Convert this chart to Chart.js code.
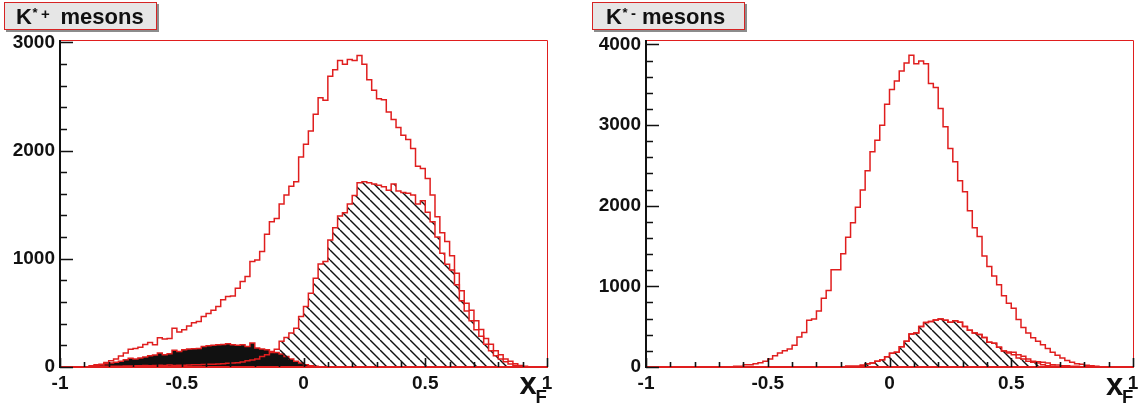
<!DOCTYPE html>
<html>
<head>
<meta charset="utf-8">
<script src="https://cdn.jsdelivr.net/npm/chart.js@4.4.1/dist/chart.umd.min.js"></script>
<style>
  html, body { margin: 0; padding: 0; background: #fff; }
  #stage { position: relative; width: 1144px; height: 410px; overflow: hidden; background: #fff;
           font-family: "Liberation Sans", Arial, Helvetica, sans-serif; font-weight: bold; color: #111; }
  canvas { position: absolute; top: 0; }
  .pave { position: absolute; top: 2px; height: 26px; background: #e6e6e6; border: 1px solid #d62424;
          box-shadow: 2px 2px 0 #8c8c8c; }
  .t { position: absolute; line-height: 1; white-space: nowrap; }
</style>
</head>
<body>
<div id="stage">
  <canvas id="kplus" width="572" height="410" style="left:0"></canvas>
  <canvas id="kminus" width="572" height="410" style="left:572px"></canvas>

  <div class="pave" style="left:4px;width:151px"></div>
  <span class="t" style="left:16px;top:5.9px;font-size:22px">K</span>
  <span class="t" style="left:32.5px;top:6px;font-size:13px">*</span>
  <span class="t" style="left:41px;top:6.3px;font-size:15px">+</span>
  <span class="t" style="left:60.5px;top:5.9px;font-size:22px">mesons</span>

  <div class="pave" style="left:592px;width:151px"></div>
  <span class="t" style="left:606px;top:5.9px;font-size:22px">K</span>
  <span class="t" style="left:622.5px;top:6px;font-size:13px">*</span>
  <span class="t" style="left:631px;top:4.5px;font-size:15px">-</span>
  <span class="t" style="left:642px;top:5.9px;font-size:22px">mesons</span>

  <span class="t" style="left:519.5px;top:367.8px;font-size:31px">x</span>
  <span class="t" style="left:535.5px;top:387.6px;font-size:18.6px">F</span>
  <span class="t" style="left:1106px;top:368.8px;font-size:31px">x</span>
  <span class="t" style="left:1122px;top:388.3px;font-size:18.6px">F</span>
</div>

<script>
// Histograms of x_F: 100 bins from -1 to 1
const xLow = -1;
const xHigh = 1;
const binWidth = 0.02;
const xTicks = [-1, -0.5, 0, 0.5, 1];
const yTicksPlus = [0, 1000, 2000, 3000];
const yTicksMinus = [0, 1000, 2000, 3000, 4000];

// K*+ : all candidates
const kplusTotal = [
  0, 0, 0, 0, 0, 0, 12, 21, 26, 41,
  58, 74, 102, 129, 163, 170, 182, 209, 227, 206,
  270, 258, 264, 358, 324, 344, 378, 409, 421, 467,
  495, 524, 560, 621, 651, 657, 728, 789, 836, 974,
  989, 1066, 1226, 1342, 1373, 1505, 1588, 1671, 1711, 1941,
  2058, 2181, 2335, 2488, 2464, 2685, 2746, 2832, 2796, 2842,
  2832, 2878, 2796, 2654, 2556, 2479, 2470, 2356, 2286, 2212,
  2141, 2101, 2018, 1855, 1834, 1742, 1588, 1389, 1241, 1160,
  1028, 866, 705, 590, 524, 428, 347, 264, 210, 150,
  113, 75, 52, 31, 15, 6, 0, 0, 0, 0
];
// K*+ : hatched component
const kplusHatched = [
  0, 0, 0, 0, 0, 0, 4, 5, 3, 7,
  6, 8, 7, 10, 9, 12, 11, 13, 12, 15,
  16, 14, 18, 15, 17, 16, 19, 21, 20, 24,
  26, 25, 28, 31, 34, 37, 40, 46, 58, 65,
  74, 98, 114, 135, 163, 237, 273, 313, 359, 467,
  559, 682, 820, 952, 974, 1173, 1287, 1395, 1425, 1505,
  1585, 1702, 1711, 1702, 1690, 1680, 1665, 1634, 1690, 1625,
  1613, 1605, 1588, 1505, 1536, 1430, 1342, 1200, 1051, 950,
  897, 759, 612, 518, 428, 344, 283, 210, 150, 104,
  74, 48, 28, 15, 6, 0, 0, 0, 0, 0
];
// K*+ : solid component
const kplusSolid = [
  0, 0, 0, 0, 0, 0, 6, 15, 18, 31,
  37, 43, 52, 68, 80, 74, 83, 92, 104, 111,
  129, 114, 123, 154, 144, 160, 166, 169, 172, 190,
  197, 200, 206, 209, 215, 206, 200, 206, 190, 221,
  175, 166, 160, 144, 135, 120, 98, 74, 52, 37,
  21, 12, 6, 0, 0, 0, 0, 0, 0, 0,
  0, 0, 0, 0, 0, 0, 0, 0, 0, 0,
  0, 0, 0, 0, 0, 0, 0, 0, 0, 0,
  0, 0, 0, 0, 0, 0, 0, 0, 0, 0,
  0, 0, 0, 0, 0, 0, 0, 0, 0, 0
];

// K*- : all candidates
const kminusTotal = [
  0, 0, 0, 0, 0, 0, 0, 0, 0, 0,
  0, 0, 0, 0, 0, 0, 0, 0, 8, 8,
  29, 29, 41, 54, 70, 99, 140, 173, 200, 223,
  270, 371, 429, 580, 594, 695, 854, 949, 1205, 1205,
  1403, 1609, 1790, 1980, 2195, 2434, 2669, 2813, 2999, 3259,
  3440, 3548, 3671, 3770, 3865, 3762, 3795, 3762, 3515, 3465,
  3205, 2978, 2710, 2545, 2310, 2174, 1939, 1728, 1617, 1378,
  1246, 1130, 1019, 883, 792, 730, 590, 489, 421, 363,
  318, 276, 229, 184, 147, 111, 80, 60, 40, 35,
  23, 14, 8, 0, 0, 0, 0, 0, 0, 0
];
// K*- : hatched component
const kminusHatched = [
  0, 0, 0, 0, 0, 0, 0, 0, 0, 0,
  0, 0, 0, 0, 0, 0, 0, 0, 0, 0,
  0, 0, 0, 0, 0, 0, 0, 0, 0, 0,
  0, 0, 0, 0, 0, 0, 0, 0, 0, 0,
  0, 8, 8, 8, 21, 41, 50, 70, 91, 126,
  170, 182, 250, 318, 410, 421, 503, 553, 565, 582,
  594, 580, 555, 572, 555, 503, 455, 421, 404, 365,
  308, 293, 245, 198, 173, 153, 111, 99, 70, 58,
  50, 29, 16, 8, 0, 0, 0, 0, 0, 0,
  0, 0, 0, 0, 0, 0, 0, 0, 0, 0
];
// K*- : open component
const kminusOpen = [
  0, 0, 0, 0, 0, 0, 0, 0, 0, 0,
  0, 0, 0, 0, 0, 0, 0, 0, 0, 0,
  0, 0, 0, 0, 0, 0, 0, 0, 0, 0,
  0, 0, 0, 0, 0, 0, 0, 0, 0, 0,
  0, 8, 8, 8, 21, 41, 50, 70, 91, 126,
  170, 182, 250, 318, 410, 421, 503, 553, 565, 582,
  594, 580, 555, 572, 555, 503, 455, 421, 404, 365,
  308, 293, 245, 198, 186, 182, 153, 132, 99, 70,
  66, 58, 50, 29, 25, 16, 16, 8, 8, 0,
  0, 0, 0, 0, 0, 0, 0, 0, 0, 0
];

const RED = '#e01e1e';
const INK = '#111111';
const FONT = { family: '"Liberation Sans", Arial, Helvetica, sans-serif', size: 19, weight: 'bold' };

// step points: each bin starts at its low edge, the last point closes at the upper edge
function steps(values) {
  const pts = values.map((v, i) => ({ x: xLow + i * binWidth, y: v }));
  pts.push({ x: xHigh, y: 0 });
  return pts;
}

function hatchPattern() {
  const w = 10, h = 10;
  const c = document.createElement('canvas');
  c.width = w; c.height = h;
  const g = c.getContext('2d');
  g.strokeStyle = INK;
  g.lineWidth = 1.4;
  for (const dx of [-w, 0, w]) {
    g.beginPath();
    g.moveTo(dx, 0);
    g.lineTo(dx + w, h);
    g.stroke();
  }
  return g.createPattern(c, 'repeat');
}

// frame, axis lines and inward tick marks
const axisFrame = {
  id: 'axisFrame',
  afterDatasetsDraw(chart) {
    const { ctx, chartArea: a, scales: { x, y } } = chart;
    ctx.save();
    ctx.strokeStyle = RED;
    ctx.lineWidth = 1;
    ctx.beginPath();
    ctx.moveTo(a.left, a.top + 0.5);
    ctx.lineTo(a.right + 0.5, a.top + 0.5);
    ctx.lineTo(a.right + 0.5, a.bottom);
    ctx.stroke();
    ctx.lineWidth = 2;
    ctx.beginPath();
    ctx.moveTo(a.left, a.bottom);
    ctx.lineTo(a.right + 1, a.bottom);
    ctx.stroke();

    ctx.strokeStyle = INK;
    ctx.lineWidth = 2;
    ctx.beginPath();
    ctx.moveTo(a.left, a.top);
    ctx.lineTo(a.left, a.bottom + 1);
    ctx.stroke();

    ctx.lineWidth = 1.6;
    ctx.beginPath();
    for (let v = 0; v <= y.max; v += 200) {
      const py = Math.round(y.getPixelForValue(v)) + 0.5;
      const len = v % 1000 === 0 ? 13 : 7;
      ctx.moveTo(a.left, py);
      ctx.lineTo(a.left + len, py);
    }
    for (let i = 0; i <= 20; i++) {
      const px = Math.round(x.getPixelForValue(xLow + i * 0.1)) + 0.5;
      const len = i % 5 === 0 ? 9 : 5;
      ctx.moveTo(px, a.bottom);
      ctx.lineTo(px, a.bottom - len);
    }
    ctx.stroke();
    ctx.restore();
  }
};

const plain = v => String(v);

function panel(id, datasets, yMax, yTicks, yWidth, rightPad) {
  return new Chart(document.getElementById(id), {
    type: 'line',
    data: { datasets },
    options: {
      responsive: false,
      animation: false,
      devicePixelRatio: 1,
      layout: { padding: { left: 0, right: rightPad, top: 40, bottom: 0 } },
      plugins: { legend: { display: false }, tooltip: { enabled: false } },
      elements: { point: { radius: 0 }, line: { tension: 0 } },
      scales: {
        x: {
          type: 'linear', min: xLow, max: xHigh,
          grid: { display: false, drawTicks: false },
          border: { display: false },
          afterBuildTicks: s => { s.ticks = xTicks.map(v => ({ value: v })); },
          ticks: { autoSkip: false, maxRotation: 0, padding: 5, font: FONT, color: INK, callback: plain },
          afterFit: s => { s.height = 43; }
        },
        y: {
          type: 'linear', min: 0, max: yMax,
          grid: { display: false, drawTicks: false },
          border: { display: false },
          afterBuildTicks: s => { s.ticks = yTicks.map(v => ({ value: v })); },
          ticks: { autoSkip: false, padding: 5, font: FONT, color: INK, callback: plain },
          afterFit: s => { s.width = yWidth; }
        }
      }
    },
    plugins: [axisFrame]
  });
}

function line(values, extra) {
  return Object.assign({
    data: steps(values), stepped: 'before', borderColor: RED, borderWidth: 1.5,
    fill: false, pointRadius: 0
  }, extra || {});
}

const hatch = hatchPattern();

panel('kplus', [
  line(kplusHatched, { fill: 'origin', backgroundColor: hatch }),
  line(kplusSolid, { fill: 'origin', backgroundColor: INK }),
  line(kplusTotal)
], 3021, yTicksPlus, 60, 25);

panel('kminus', [
  line(kminusHatched, { fill: 'origin', backgroundColor: hatch }),
  line(kminusOpen),
  line(kminusTotal)
], 4055, yTicksMinus, 74, 11);
</script>
</body>
</html>
